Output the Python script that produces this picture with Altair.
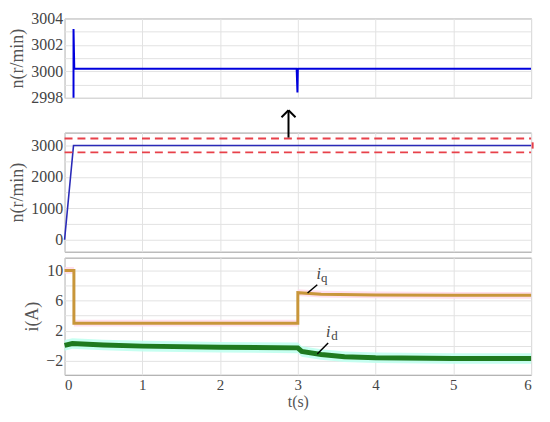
import altair as alt
import pandas as pd

FONT = "Liberation Serif"

# --- top panel: zoomed speed ---
t_zoom = [0.115, 0.115, 0.125, 2.985, 2.995, 3.0, 3.01, 6.0]
n_zoom = [2996.0, 3003.2, 3000.2, 3000.2, 2998.4, 3000.15, 3000.2, 3000.2]
top_ticks = [2998, 2999, 3000, 3001, 3002, 3003, 3004]

# --- middle panel: speed ---
t_speed = [0.0, 0.115, 6.0]
n_speed = [0.0, 3000.0, 3000.0]
band_hi = 3220
band_lo = 2780
mid_ticks = [0, 500, 1000, 1500, 2000, 2500, 3000]

# --- bottom panel: currents ---
t_iq = [0.0, 0.12, 0.12, 3.0, 3.0, 3.3, 4.0, 5.0, 6.0]
iq = [10.0, 10.0, 3.0, 3.0, 7.05, 6.85, 6.75, 6.7, 6.7]
t_id = [0.0, 0.1, 0.5, 1.0, 2.0, 3.0, 3.05, 3.3, 3.6, 4.0, 5.0, 6.0]
id_ = [0.05, 0.3, 0.1, -0.05, -0.2, -0.28, -0.75, -1.15, -1.45, -1.6, -1.68, -1.68]
bot_ticks = [-2, 0, 2, 4, 6, 8, 10]

x_ticks = [0, 1, 2, 3, 4, 5, 6]

W = 470
GRID = "#e2e2e2"

xscale = alt.Scale(domain=[0, 6], nice=False, zero=False)

def X(field, show=False):
    if show:
        ax = alt.Axis(values=x_ticks, format="d", title="t(s)", grid=True, domain=False, ticks=False,
                      labelPadding=3, titlePadding=1, labelFontSize=15, titleFontSize=16)
    else:
        ax = alt.Axis(values=x_ticks, title=None, labels=False, grid=True, domain=False, ticks=False)
    return alt.X(field, type="quantitative", scale=xscale, axis=ax)

def make_Y(domain, ticks, expr, title):
    sc = alt.Scale(domain=domain, nice=False, zero=False)
    ax = alt.Axis(values=ticks, format="d", labelExpr=expr, labelOverlap=False,
                  title=title, domain=False, ticks=False)
    def Y(field):
        return alt.Y(field, type="quantitative", scale=sc, axis=ax)
    return Y

# ---------- top ----------
Yt = make_Y([2998, 3004], top_ticks, "datum.value % 2 == 0 ? datum.label : ''", "n(r/min)")
df_zoom = pd.DataFrame({"t": t_zoom, "v": n_zoom})
top = alt.Chart(df_zoom).mark_line(color="#0000dd", strokeWidth=2, clip=True).encode(
    x=X("t"), y=Yt("v")).properties(width=W, height=80)

# ---------- middle ----------
Ym = make_Y([-380, 3410], mid_ticks, "datum.value % 1000 == 0 ? datum.label : ''", "n(r/min)")
df_speed = pd.DataFrame({"t": t_speed, "v": n_speed})
df_band = pd.DataFrame({"t": [0.0, 6.0, 0.0, 6.0], "v": [band_hi, band_hi, band_lo, band_lo],
                        "g": ["hi", "hi", "lo", "lo"]})
mid_line = alt.Chart(df_speed).mark_line(color="#2a2ab8", strokeWidth=1.6).encode(x=X("t"), y=Ym("v"))
mid_band = alt.Chart(df_band).mark_line(color="#e8414a", strokeWidth=2, strokeDash=[8, 5]).encode(
    x=X("t"), y=Ym("v"), detail="g:N")

df_edge = pd.DataFrame({"t": [6.02], "v": [2900], "v2": [3100]})
mid_edge = alt.Chart(df_edge).mark_rule(color="#e8414a", strokeWidth=2).encode(
    x=X("t"), y=Ym("v"), y2="v2:Q")

arrow_t = 2.88
df_arrow = pd.DataFrame({
    "t": [arrow_t, arrow_t, arrow_t],
    "v": [3252, 4120, 4120],
    "t2": [arrow_t, arrow_t - 0.09, arrow_t + 0.09],
    "v2": [4120, 3900, 3900],
})
mid_arrow = alt.Chart(df_arrow).mark_rule(color="#000000", strokeWidth=2).encode(
    x=X("t"), y=Ym("v"), x2="t2:Q", y2="v2:Q")

mid = alt.layer(mid_line, mid_band, mid_edge, mid_arrow).properties(width=W, height=120)

# ---------- bottom ----------
Yb = make_Y([-3.85, 11.7], bot_ticks, "(datum.value + 2) % 4 == 0 ? datum.label : ''", "i(A)")
df_iq = pd.DataFrame({"t": t_iq, "v": iq})
df_iq["lo"] = df_iq["v"] - 0.45
df_iq["hi"] = df_iq["v"] + 0.45
df_id = pd.DataFrame({"t": t_id, "v": id_})
df_id["lo"] = df_id["v"] - 0.7
df_id["hi"] = df_id["v"] + 0.7

iq_band = alt.Chart(df_iq).mark_area(color="#ffdcea", opacity=0.9).encode(
    x=X("t", True), y=Yb("lo"), y2="hi:Q")
id_band = alt.Chart(df_id).mark_area(color="#c0fff0", opacity=0.9).encode(
    x=X("t", True), y=Yb("lo"), y2="hi:Q")
iq_line = alt.Chart(df_iq).mark_line(color="#c8963a", strokeWidth=3).encode(x=X("t", True), y=Yb("v"))
id_line = alt.Chart(df_id).mark_line(color="#1f7a1f", strokeWidth=5).encode(x=X("t", True), y=Yb("v"))

df_lead = pd.DataFrame({"t": [3.125, 3.25], "v": [7.0, -1.08],
                        "t2": [3.25, 3.39], "v2": [8.1, 0.37]})
leads = alt.Chart(df_lead).mark_rule(color="#000000", strokeWidth=1.5).encode(
    x=X("t", True), y=Yb("v"), x2="t2:Q", y2="v2:Q")

df_i = pd.DataFrame({"t": [3.27, 3.39], "v": [9.5, 1.8], "s": ["i", "i"]})
df_sub = pd.DataFrame({"t": [3.34, 3.47], "v": [8.95, 1.25], "s": ["q", "d"]})
lab_i = alt.Chart(df_i).mark_text(font=FONT, fontSize=16, fontStyle="italic", color="#444444").encode(
    x=X("t", True), y=Yb("v"), text="s:N")
lab_sub = alt.Chart(df_sub).mark_text(font=FONT, fontSize=13, color="#444444").encode(
    x=X("t", True), y=Yb("v"), text="s:N")

bot = alt.layer(iq_band, id_band, iq_line, id_line, leads, lab_i, lab_sub).properties(width=W, height=118)

lower = alt.vconcat(mid, bot, spacing=6, bounds="flush")
chart = alt.vconcat(top, lower, spacing=35, bounds="flush").properties(
    padding={"left": 0, "top": 0, "right": 0, "bottom": 0}
).configure_view(
    stroke="#9a9a9a", strokeWidth=1
).configure_axis(
    labelFont=FONT, titleFont=FONT, labelFontSize=16, titleFontSize=18,
    labelColor="#444444", titleColor="#555555", titleFontWeight="normal",
    gridColor=GRID, gridWidth=1,
)

chart.save("out.html", embed_options={"renderer": "svg", "actions": False})
